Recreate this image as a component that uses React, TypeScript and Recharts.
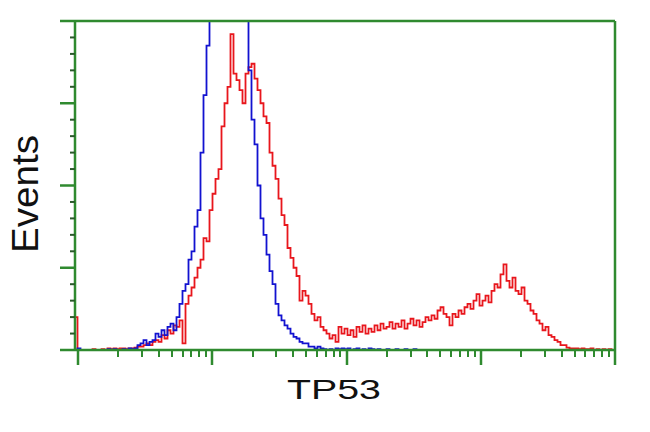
import { LineChart, Line, XAxis, YAxis, ReferenceLine, Label } from "recharts";

// channel bins, 3 units apart (0..540)
const BIN_STEP = 3;

const BLUE = [
  0, 1, 0, 0, 0, 0, 0, 0, 0, 0,
  0, 0.5, 0, 0.5, 0, 0, 0.5, 0, 1, 0.5,
  1, 3, 4, 6, 3, 5, 6, 10, 8, 12,
  9, 14, 16, 12, 20, 28, 36, 40, 55, 60,
  75, 85, 120, 155, 185, 215, 235, 250, 260, 265,
  262, 258, 255, 250, 240, 230, 215, 200, 170, 140,
  125, 100, 80, 70, 58, 48, 40, 28, 21, 18,
  15, 13, 10, 8, 7, 5, 4, 4, 2, 2,
  1, 2, 1, 0.5, 0, 0.5, 0, 1, 0.5, 1,
  0.5, 1, 0, 0.5, 1, 0, 0.5, 0, 1, 0.5,
  0, 0.5, 0, 0, 0.5, 0, 0, 0.5, 0, 0,
  0.5, 0, 0, 0.5, 0, 0, 0, 0, 0, 0,
  0, 0, 0, 0, 0, 0, 0, 0, 0, 0,
  0, 0, 0, 0, 0, 0, 0, 0, 0, 0,
  0, 0, 0, 0, 0, 0, 0, 0, 0, 0,
  0, 0, 0, 0, 0, 0, 0, 0, 0, 0,
  0, 0, 0, 0, 0, 0, 0, 0, 0, 0,
  0, 0, 0, 0, 0, 0, 0, 0, 0, 0,
  0,
];

const RED = [
  20, 0, 0, 0, 0, 0, 0.5, 0, 0, 0.5,
  0, 1, 0.5, 1, 0.5, 1, 1, 0.5, 1, 1,
  1.5, 2, 2, 3, 4, 3, 5, 6, 5, 9,
  7, 12, 10, 15, 14, 18, 4, 28, 33, 38,
  44, 50, 55, 68, 66, 85, 95, 104, 110, 136,
  150, 160, 192, 168, 164, 158, 150, 168, 172, 174,
  165, 158, 150, 142, 138, 120, 112, 104, 92, 82,
  76, 62, 56, 50, 45, 30, 36, 33, 28, 22,
  18, 20, 14, 12, 10, 7, 9, 5, 14, 10,
  13, 9, 12, 8, 14, 11, 15, 10, 13, 11,
  15, 12, 16, 13, 14, 17, 13, 16, 14, 18,
  13, 16, 19, 15, 18, 14, 17, 20, 18, 21,
  19, 24, 26, 22, 20, 15, 22, 20, 24, 22,
  26, 28, 25, 30, 34, 27, 30, 33, 29, 36,
  40, 38, 46, 52, 42, 38, 44, 36, 34, 38,
  30, 28, 24, 22, 18, 16, 12, 14, 9, 8,
  6, 5, 3, 3, 1.5, 1, 1, 1, 0.5, 1,
  0.5, 0.5, 1, 0, 0.5, 0, 0.5, 0, 0.5, 0,
  0,
];

// log-decade tick marks (no labels)
const X_TICKS = [
  2, 42, 66, 83, 96, 107, 115, 123, 130,
  136, 177, 200, 217, 230, 241, 250, 258, 264,
  271, 311, 335, 351, 364, 375, 384, 392, 399,
  405, 445, 469, 486, 499, 509, 518, 526, 533,
  539,
];
const X_MAJOR = [2, 136, 271, 405, 539];

const Y_TICKS = [0, 10, 20, 30, 40, 50, 60, 70, 80, 90, 100, 110, 120, 130, 140, 150, 160, 170, 180, 190, 200];
const Y_MAJOR = [0, 50, 100, 150, 200];

const data = BLUE.map((b, i) => ({ ch: i * BIN_STEP, blue: b, red: RED[i] }));

const GREEN = "#2f8a2f";

const XTick = ({ x, y, payload }: any) => {
  const major = X_MAJOR.includes(payload.value);
  return (
    <line x1={x} x2={x} y1={y} y2={y + (major ? 15 : 7)}
      stroke={GREEN} strokeWidth={major ? 2.5 : 2} />
  );
};

const YTick = ({ x, y, payload }: any) => {
  const major = Y_MAJOR.includes(payload.value);
  return (
    <line x1={x - (major ? 15 : 5)} x2={x} y1={y} y2={y}
      stroke={major ? GREEN : "#2a5a2a"} strokeWidth={major ? 2.5 : 2} />
  );
};

export default function App() {
  return (
    <div style={{ position: "absolute", left: 0, top: 0, width: 650, height: 432, background: "#fff" }}>
      <LineChart width={650} height={432} data={data}
        margin={{ top: 21, right: 35, bottom: 0, left: 0 }}>
        <XAxis
          dataKey="ch"
          type="number"
          domain={[-1, 539]}
          allowDataOverflow
          ticks={X_TICKS}
          interval={0}
          height={82}
          tickSize={0}
          tickMargin={0}
          tickLine={false}
          axisLine={{ stroke: GREEN, strokeWidth: 2.5 }}
          tick={(p: any) => <XTick {...p} />}
        >
          <Label content={() => (
            <text x={334} y={399} textAnchor="middle" fontFamily="Liberation Sans, Arial, sans-serif"
              fontSize={27} fill="#111" textLength={94} lengthAdjust="spacingAndGlyphs">TP53</text>
          )} />
        </XAxis>
        <YAxis
          type="number"
          domain={[0, 200]}
          allowDataOverflow
          ticks={Y_TICKS}
          interval={0}
          width={75}
          tickSize={0}
          tickMargin={0}
          tickLine={false}
          axisLine={{ stroke: GREEN, strokeWidth: 2.5 }}
          tick={(p: any) => <YTick {...p} />}
        >
          <Label content={() => (
            <text x={38} y={194} textAnchor="middle" transform="rotate(-90 38 194)"
              fontFamily="Liberation Sans, Arial, sans-serif" fontSize={37} fill="#111"
              textLength={118} lengthAdjust="spacingAndGlyphs">Events</text>
          )} />
        </YAxis>
        <Line type="step" dataKey="red" stroke="#e8161c" strokeWidth={1.8}
          dot={false} isAnimationActive={false} />
        <Line type="step" dataKey="blue" stroke="#1212d0" strokeWidth={1.8}
          dot={false} isAnimationActive={false} />
        <ReferenceLine y={200} stroke={GREEN} strokeWidth={2.5} />
        <ReferenceLine x={539} stroke={GREEN} strokeWidth={2.5} />
      </LineChart>
    </div>
  );
}
